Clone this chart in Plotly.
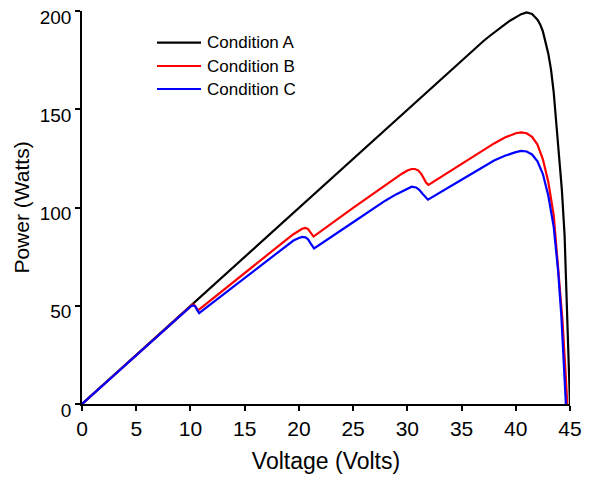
import plotly.graph_objects as go

# Condition A
volt_a = [0, 5, 10, 15, 20, 25, 30, 35, 36, 37, 37.5, 38, 38.5, 39, 39.5, 40, 40.5, 41,
          41.5, 42, 42.25, 42.5, 42.75, 43, 43.25, 43.5, 43.75, 44, 44.25, 44.5, 44.7, 44.85, 45.0]
power_a = [0, 25, 50, 75, 100, 125, 150, 175, 180, 184.6, 186.9, 189.1, 191.2, 193.2, 195.2, 197, 198.4, 199.3,
           198.5, 195.6, 193.2, 189.6, 184.6, 178.3, 170.2, 158.5, 142, 125.5, 109, 86, 55, 29, 0]

# Condition B
volt_b = [0, 5, 10, 10.2, 10.35, 10.5, 10.7,
          12, 15, 18, 19, 19.5, 20, 20.3, 20.6, 20.85, 21.05, 21.2, 21.35,
          25, 28, 29.5, 30, 30.4, 30.7, 31, 31.3, 31.55, 31.75, 31.95,
          35, 38, 39, 39.5, 40, 40.5, 41, 41.5, 42, 42.5, 43, 43.5, 44, 44.3, 44.55, 44.75]
power_b = [0, 25, 50, 50.6, 50.4, 49, 47.6,
           53.4, 66.8, 80.1, 84.3, 86.4, 88.2, 89.2, 89.6, 89, 87.5, 86, 85.2,
           99.8, 111.7, 117.2, 118.8, 119.6, 119.6, 118.9, 117, 114.5, 112.5, 111.5,
           122.2, 132.6, 135.6, 136.8, 137.8, 138.2, 137.8, 136, 132, 124.5, 113, 96, 62, 43, 20, 0]

# Condition C
volt_c = [0, 5, 9, 9.5, 9.8, 10.05, 10.25, 10.45, 10.6, 10.72, 10.8,
          14, 17, 19, 19.5, 20, 20.3, 20.6, 20.85, 21.05, 21.25, 21.4,
          25, 28, 29, 29.5, 30, 30.4, 30.8, 31.1, 31.4, 31.65, 31.9,
          35, 38, 39, 39.5, 40, 40.5, 41, 41.5, 42, 42.5, 43, 43.5, 43.9, 44.2, 44.45, 44.62]
power_c = [0, 25, 45, 47.4, 48.8, 49.8, 50.2, 49.6, 48, 46.5, 46.2,
           59.9, 72.8, 81.3, 83.2, 84.5, 85, 84.8, 83.8, 82, 80.2, 79.2,
           92.5, 103.6, 106.8, 108.3, 109.8, 110.6, 110.2, 109, 107, 105.3, 104,
           114.1, 123.9, 126.3, 127.3, 128.2, 128.8, 128.5, 127, 123.5, 117, 106, 90, 68, 45, 20, 0]

names = ["Condition A", "Condition B", "Condition C"]
colors = ["#000000", "#ff0000", "#0000ff"]
x_ticks = [0, 5, 10, 15, 20, 25, 30, 35, 40, 45]
y_ticks = [0, 50, 100, 150, 200]

fig = go.Figure()
for xs, ys, nm, col in zip([volt_a, volt_b, volt_c], [power_a, power_b, power_c], names, colors):
    fig.add_trace(go.Scatter(x=xs, y=ys, mode="lines", name=nm,
                             line=dict(color=col, width=2.2)))

# manual legend (line sample + text) in paper coordinates
legend_y = [0.9193, 0.860, 0.8015]
for nm, col, ly in zip(names, colors, legend_y):
    fig.add_shape(type="line", xref="paper", yref="paper", x0=0.1537, x1=0.2439,
                  y0=ly, y1=ly, line=dict(color=col, width=2.2))
    fig.add_annotation(xref="paper", yref="paper", x=0.252, y=ly, text=nm,
                       showarrow=False, xanchor="left", yanchor="middle",
                       font=dict(size=17, color="black"))

font_family = "Arial, Liberation Sans, sans-serif"
fig.update_layout(
    width=600, height=481,
    margin=dict(l=74, r=38, t=3, b=85),
    paper_bgcolor="white", plot_bgcolor="white",
    font=dict(family=font_family, color="black", size=16),
    showlegend=False,
)
fig.update_xaxes(range=[0, 45], tickvals=x_ticks, showgrid=False, zeroline=False,
                 showline=True, linecolor="black", linewidth=1.5, automargin=False,
                 ticks="outside", ticklen=5, tickwidth=1.5, tickcolor="black",
                 tickfont=dict(size=21), ticklabeloverflow="allow",
                 title=dict(text="Voltage (Volts)", font=dict(size=23), standoff=14))
fig.update_yaxes(range=[0, 200], tickvals=y_ticks, showgrid=False, zeroline=False,
                 showline=True, linecolor="black", linewidth=1.5, automargin=False,
                 ticks="outside", ticklen=5, tickwidth=1.5, tickcolor="black",
                 tickfont=dict(size=19), ticklabeloverflow="allow", ticklabelshift=6,
                 title=dict(text="Power (Watts)", font=dict(size=21), standoff=4))

fig.write_html("out.html")
